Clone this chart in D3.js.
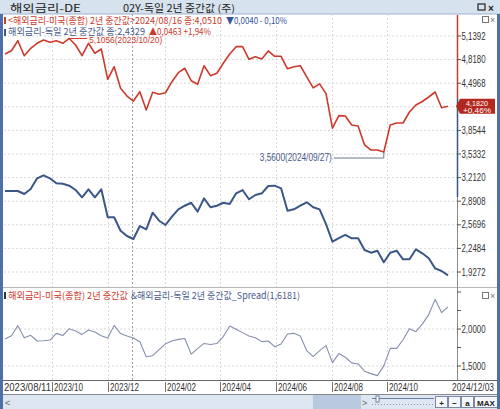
<!DOCTYPE html>
<html>
<head>
<meta charset="utf-8">
<script src="https://cdn.jsdelivr.net/npm/d3@7"></script>
<style>
  body { margin: 0; background: #fff; }
  svg { display: block; }
</style>
</head>
<body>
<div id="chart"></div>
<script>
// ── Données (hebdo, à partir du 2023/08/11) ──
const startDate = new Date(2023, 7, 11);
const endDate = new Date(2024, 11, 6);

// 해외금리-미국(종합) 2년 중간값
const usRate = [
  4.894, 4.939, 5.075, 4.871, 4.972, 5.040, 5.085, 5.053, 5.075, 5.040,
  5.1056, 5.017, 4.871, 5.040, 4.904, 4.962, 4.550, 4.721, 4.427, 4.322,
  4.254, 4.381, 4.132, 4.373, 4.346, 4.367, 4.517, 4.640, 4.700, 4.531,
  4.482, 4.735, 4.599, 4.632, 4.768, 4.894, 4.994, 4.994, 4.822, 4.857,
  4.827, 4.936, 4.863, 4.863, 4.693, 4.721, 4.734, 4.583, 4.434, 4.487,
  4.355, 3.884, 4.055, 4.0510, 3.928, 3.914, 3.656, 3.587, 3.587, 3.560,
  3.928, 3.955, 3.955, 4.105, 4.200, 4.248, 4.309, 4.377, 4.163, 4.182
];

// 해외금리-독일 2년 중간값
const deRate = [
  3.030, 3.030, 3.030, 2.989, 3.057, 3.202, 3.243, 3.202, 3.134, 3.129,
  3.102, 3.043, 2.944, 3.053, 2.944, 3.053, 2.672, 2.672, 2.489, 2.417,
  2.376, 2.553, 2.508, 2.734, 2.625, 2.567, 2.680, 2.780, 2.829, 2.870,
  2.748, 2.930, 2.808, 2.829, 2.870, 2.853, 2.998, 3.043, 2.917, 2.975,
  2.998, 3.098, 3.102, 3.066, 2.761, 2.780, 2.829, 2.876, 2.808, 2.780,
  2.580, 2.339, 2.387, 2.4329, 2.386, 2.386, 2.226, 2.190, 2.217, 2.059,
  2.190, 2.217, 2.100, 2.100, 2.236, 2.182, 2.114, 1.977, 1.941, 1.882
];

const mainTicks = [5.1392, 4.8180, 4.4968, 4.1756, 3.8544, 3.5332, 3.2120, 2.8908, 2.5696, 2.2484, 1.9272];
const spreadTicks = [2.5, 2.25, 2.0, 1.75, 1.5];
const spreadLabels = [2.0, 1.5];
const monthTicks = ['2023-10-01', '2023-12-01', '2024-02-01', '2024-04-01', '2024-06-01', '2024-08-01', '2024-10-01'];
const monthLabels = ['2023/10', '2023/12', '2024/02', '2024/04', '2024/06', '2024/08', '2024/10'];
const yearLine = '2024-01-01';

const dates = usRate.map((_, i) => d3.timeDay.offset(startDate, 7 * i));
const spread = usRate.map((v, i) => v - deRate[i]);

// ── Styles ──
const COL = {
  red: '#cc3a2c', blue: '#3b5688', spread: '#8590ab', grid: '#d9d9d9',
  ink: '#333', legBlue: '#46598a', frame: '#4d70a8', bar: '#d7e2ef'
};
const NUM = "'Liberation Sans Narrow', 'Liberation Sans', Arial, sans-serif";
const KR = "'Noto Sans CJK KR', 'Noto Sans', sans-serif";
const fmt = v => d3.format('.4f')(v).replace('.', ',');

const W = 500, H = 409;
const AX = 457;             // ligne d'axe droite
const MAIN = { top: 14, bottom: 287 };
const SUB = { top: 287, bottom: 380 };

const svg = d3.select('#chart').append('svg')
  .attr('width', W).attr('height', H)
  .attr('viewBox', `0 0 ${W} ${H}`);

const x = d3.scaleTime().domain([startDate, endDate]).range([5, 448]);
const y = d3.scaleLinear().domain([1.9272, 5.1392]).range([272, 36]);
const ys = d3.scaleLinear().domain([1.5, 2.0]).range([366, 329]);

// texte utilitaire
function txt(sel, px, py, s, o = {}) {
  const t = sel.append('text')
    .attr('x', px).attr('y', py)
    .attr('font-family', o.font || KR)
    .attr('font-size', o.size || 9.5)
    .attr('font-weight', o.bold ? 700 : 400)
    .attr('fill', o.color || COL.ink)
    .attr('text-anchor', o.anchor || 'start')
    .text(s);
  if (o.len) t.attr('textLength', o.len).attr('lengthAdjust', 'spacingAndGlyphs');
  return t;
}

// fond
svg.append('rect').attr('width', W).attr('height', H).attr('fill', '#fff');

// barre de titre
svg.append('rect').attr('x', 0).attr('y', 0).attr('width', W).attr('height', 14).attr('fill', COL.bar);
txt(svg, 10, 11.5, '해외금리-DE', { size: 10, color: '#222', len: 71 });
txt(svg, 123, 11.5, '02Y-독일 2년 중간값 (주)', { size: 10, color: '#222', len: 112 });
svg.append('rect').attr('x', 478).attr('y', 4).attr('width', 7).attr('height', 6)
  .attr('fill', 'none').attr('stroke', '#222').attr('stroke-width', 1.2);
txt(svg, 488, 11.5, '×', { size: 10, color: '#222', font: NUM, bold: true });
svg.append('line').attr('x1', 0).attr('x2', W).attr('y1', 14).attr('y2', 14).attr('stroke', '#9fb3cc');

// grilles
const grid = svg.append('g');
mainTicks.forEach(v => {
  grid.append('line').attr('x1', 4).attr('x2', AX).attr('y1', y(v)).attr('y2', y(v))
    .attr('stroke', COL.grid).attr('stroke-dasharray', '2,2');
});
spreadLabels.forEach(v => {
  grid.append('line').attr('x1', 4).attr('x2', AX).attr('y1', ys(v)).attr('y2', ys(v))
    .attr('stroke', COL.grid).attr('stroke-dasharray', '2,2');
});
monthTicks.forEach(d => {
  const gx = Math.round(x(new Date(d))) + 0.5;
  grid.append('line').attr('x1', gx).attr('x2', gx).attr('y1', MAIN.top).attr('y2', SUB.bottom)
    .attr('stroke', COL.grid).attr('stroke-dasharray', '2,2');
});
const yx = Math.round(x(new Date(yearLine))) - 3.5;
grid.append('line').attr('x1', yx).attr('x2', yx).attr('y1', MAIN.top).attr('y2', SUB.bottom)
  .attr('stroke', '#a0a0a0').attr('stroke-dasharray', '2,2');

// séparateur des volets
svg.append('line').attr('x1', 0).attr('x2', W).attr('y1', SUB.top + 0.5).attr('y2', SUB.top + 0.5)
  .attr('stroke', '#b8b8b8');

// courbes
const line = (yy) => d3.line().x((d, i) => x(dates[i])).y(d => yy(d));
svg.append('path').datum(deRate).attr('d', line(y))
  .attr('fill', 'none').attr('stroke', COL.blue).attr('stroke-width', 2).attr('stroke-linejoin', 'round');
svg.append('path').datum(usRate).attr('d', line(y))
  .attr('fill', 'none').attr('stroke', COL.red).attr('stroke-width', 1.6).attr('stroke-linejoin', 'round');
svg.append('path').datum(spread).attr('d', line(ys))
  .attr('fill', 'none').attr('stroke', COL.spread).attr('stroke-width', 1.1).attr('stroke-linejoin', 'round');

// annotations max / min
const iMax = d3.maxIndex(usRate), iMin = d3.minIndex(usRate);
const mx = x(dates[iMax]), my = y(usRate[iMax]);
svg.append('line').attr('x1', mx).attr('x2', mx + 18).attr('y1', my).attr('y2', my)
  .attr('stroke', COL.red);
txt(svg, mx + 20, my + 4.5, `${fmt(usRate[iMax])}(${d3.timeFormat('%Y/%m/%d')(dates[iMax])})`,
  { font: NUM, size: 9.5, color: COL.red, len: 73 });
const nx = x(dates[iMin]), ny = y(usRate[iMin]);
svg.append('path').attr('d', `M${nx},${ny} V${ny + 6} H${nx - 50}`)
  .attr('fill', 'none').attr('stroke', '#6a7690');
txt(svg, nx - 124, ny + 9, `${fmt(usRate[iMin])}(${d3.timeFormat('%Y/%m/%d')(dates[iMin])})`,
  { font: NUM, size: 10, color: COL.legBlue, len: 72 });

// légendes
svg.append('rect').attr('x', 4).attr('y', 17).attr('width', 2).attr('height', 7).attr('fill', COL.red);
txt(svg, 8, 23.5, '<해외금리-미국(종합) 2년 중간값>2024/08/16 종:4,0510', { color: COL.red, len: 214 });
txt(svg, 226, 23.5, '▼0,0040 - 0,10%', { color: '#3552a0', len: 61 });
svg.append('rect').attr('x', 4).attr('y', 29).attr('width', 2).attr('height', 7).attr('fill', COL.blue);
txt(svg, 8, 35, '해외금리-독일 2년 중간값 종:2,4329', { color: COL.legBlue, len: 137 });
txt(svg, 149, 35, '▲0,0463 +1,94%', { color: COL.red, len: 62 });

svg.append('rect').attr('x', 4).attr('y', 292).attr('width', 2).attr('height', 7).attr('fill', '#333');
txt(svg, 8, 299, '해외금리-미국(종합) 2년 중간값', { color: COL.red, len: 120 });
txt(svg, 131, 299, '&해외금리-독일 2년 중간값_Spread(1,6181)', { color: COL.legBlue, len: 169 });

// petits boutons de volet
[[20], [296]].forEach(([by]) => {
  svg.append('rect').attr('x', 482.5).attr('y', by - 3.5).attr('width', 6).attr('height', 6)
    .attr('fill', 'none').attr('stroke', '#777');
  txt(svg, 490, by + 3, '×', { font: NUM, size: 9, color: '#777' });
});

// étiquette de dernière valeur (position)
const last = usRate[usRate.length - 1], prev = usRate[usRate.length - 2];
const ly = y(last);

// axe droit — volet principal
svg.append('line').attr('x1', AX + 0.5).attr('x2', AX + 0.5).attr('y1', 15).attr('y2', 98)
  .attr('stroke', COL.red).attr('stroke-width', 1.5);
svg.append('line').attr('x1', AX + 0.5).attr('x2', AX + 0.5).attr('y1', 98).attr('y2', 197)
  .attr('stroke', COL.blue).attr('stroke-width', 1.5);
svg.append('line').attr('x1', AX + 0.5).attr('x2', AX + 0.5).attr('y1', 197).attr('y2', SUB.bottom)
  .attr('stroke', '#8a8a8a');
mainTicks.forEach(v => {
  svg.append('line').attr('x1', AX).attr('x2', AX + 4).attr('y1', y(v)).attr('y2', y(v)).attr('stroke', '#555');
  if (Math.abs(y(v) - ly) > 9) {
    txt(svg, AX + 4.5, y(v) + 3.5, fmt(v), { font: NUM, size: 10, color: COL.ink, len: 24 });
  }
});

svg.append('path')
  .attr('d', `M${AX - 1},${ly} L${AX + 3},${ly - 7.5} H495 V${ly + 7.5} H${AX + 3} Z`)
  .attr('fill', '#b3291f');
txt(svg, 477, ly - 0.8, fmt(last), { font: NUM, size: 7.5, color: '#fff', anchor: 'middle', len: 22 });
txt(svg, 477, ly + 6.8, `+${d3.format('.2f')((last / prev - 1) * 100).replace('.', ',')}%`,
  { font: NUM, size: 7.5, color: '#fff', anchor: 'middle', len: 28 });

// axe droit — volet spread
spreadTicks.forEach(v => {
  svg.append('line').attr('x1', AX).attr('x2', AX + 4).attr('y1', ys(v)).attr('y2', ys(v)).attr('stroke', '#555');
});
spreadLabels.forEach(v => {
  txt(svg, AX + 4.5, ys(v) + 3.5, fmt(v), { font: NUM, size: 10, color: COL.ink, len: 24 });
});

// axe des dates
svg.append('line').attr('x1', 3).attr('x2', 497).attr('y1', SUB.bottom + 0.5).attr('y2', SUB.bottom + 0.5)
  .attr('stroke', '#666');
svg.append('line').attr('x1', 3).attr('x2', 497).attr('y1', 394.5).attr('y2', 394.5).attr('stroke', '#888');
txt(svg, 4, 391, '2023/08/11', { font: NUM, size: 10, color: COL.ink, len: 47 });
monthTicks.forEach((d, i) => {
  const tx = Math.round(x(new Date(d))) + 0.5;
  svg.append('line').attr('x1', tx).attr('x2', tx).attr('y1', 382).attr('y2', 392).attr('stroke', '#777');
  txt(svg, tx + 1.5, 391, monthLabels[i], { font: NUM, size: 10, color: COL.ink, len: 29 });
});
txt(svg, 494, 391, '2024/12/03', { font: NUM, size: 10, color: COL.ink, anchor: 'end', len: 42 });

// barre de défilement
svg.append('rect').attr('x', 3).attr('y', 395).attr('width', 494).attr('height', 14).attr('fill', '#dde6f1');
svg.append('rect').attr('x', 313).attr('y', 395).attr('width', 48).attr('height', 14).attr('fill', '#b9cae0');
txt(svg, 5, 406, '<', { font: NUM, size: 9, color: '#666' });
txt(svg, 362, 406, '>', { font: NUM, size: 9, color: '#666' });
svg.append('line').attr('x1', 372).attr('x2', 434).attr('y1', 398.5).attr('y2', 398.5).attr('stroke', '#6c7fa0');
svg.append('rect').attr('x', 376).attr('y', 396).attr('width', 3).attr('height', 6).attr('fill', '#fff').attr('stroke', '#6c7fa0');
svg.append('line').attr('x1', 372).attr('x2', 434).attr('y1', 404.5).attr('y2', 404.5)
  .attr('stroke', '#8a9ab5').attr('stroke-dasharray', '1,2');
[['+', 435, 12], ['−', 448, 12], ['a', 461, 12], ['MAX', 474, 23]].forEach(([s, bx, bw]) => {
  svg.append('rect').attr('x', bx + 0.5).attr('y', 396.5).attr('width', bw).attr('height', 11)
    .attr('fill', '#f4f6fa').attr('stroke', '#7d8aa3');
  txt(svg, bx + bw / 2 + 0.5, 405.5, s, { font: NUM, size: 8, bold: true, color: '#222', anchor: 'middle' });
});

// cadre bleu
svg.append('rect').attr('x', 0).attr('y', 14).attr('width', 3).attr('height', H - 14).attr('fill', COL.frame);
svg.append('rect').attr('x', 497).attr('y', 14).attr('width', 3).attr('height', H - 14).attr('fill', COL.frame);
</script>
</body>
</html>
